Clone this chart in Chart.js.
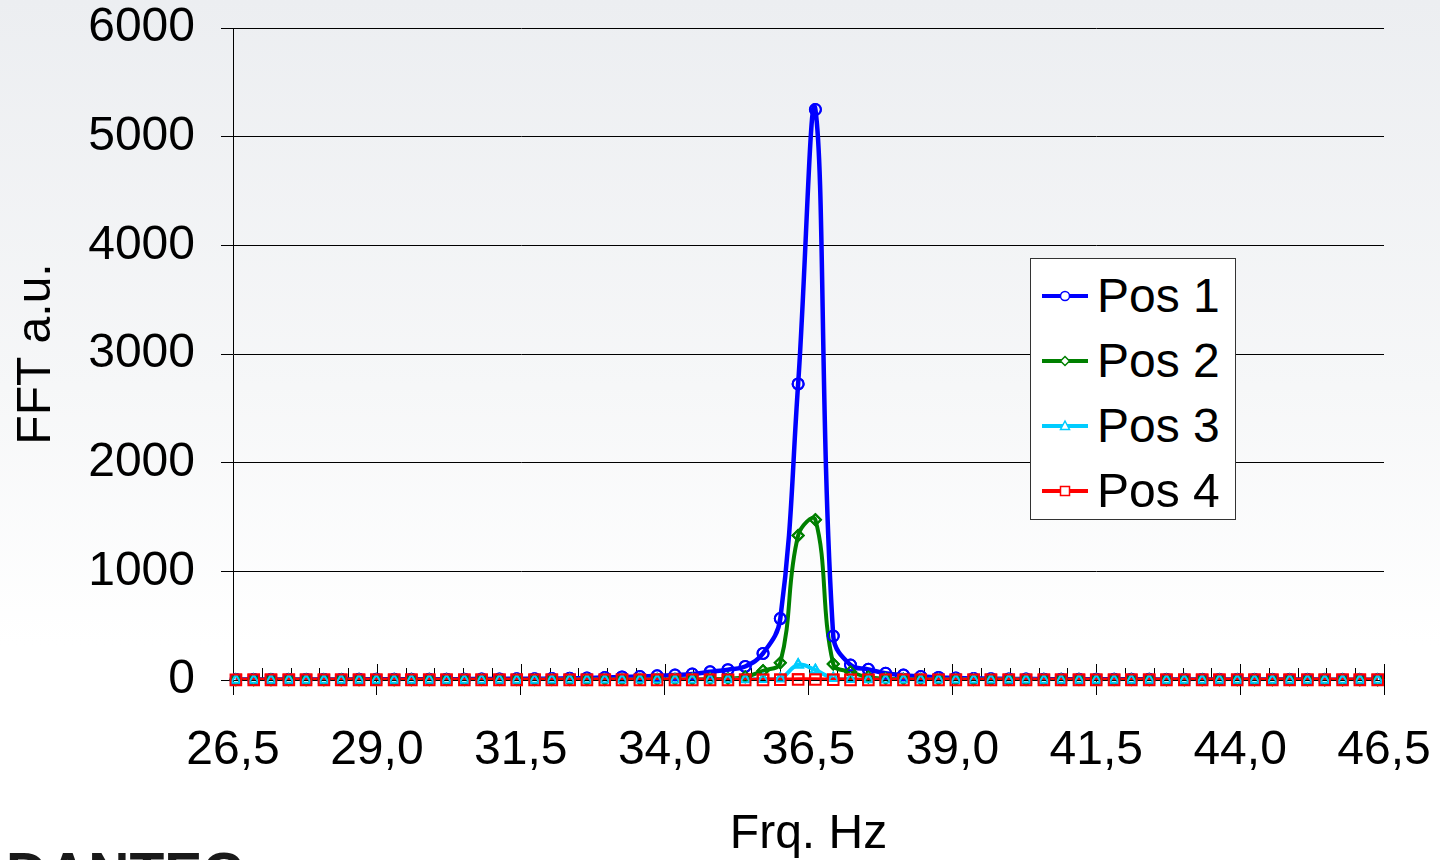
<!DOCTYPE html>
<html lang="en">
<head>
  <meta charset="UTF-8" />
  <title>FFT Pos 1-4</title>
  <script src="https://cdn.jsdelivr.net/npm/chart.js"></script>
  <style>
    html, body {
      margin: 0;
      padding: 0;
    }
    body {
      width: 1440px;
      height: 860px;
      overflow: hidden;
      position: relative;
      font-family: "Liberation Sans", Arial, sans-serif;
      background: linear-gradient(to bottom, #eceef1 0%, #f6f7f8 45%, #ffffff 75%);
    }
    #chartCanvas {
      position: absolute;
      left: 0;
      top: 0;
    }
    #legend {
      position: absolute;
      left: 1030px;
      top: 258px;
      width: 206px;
      height: 262px;
      box-sizing: border-box;
      border: 1px solid #333;
      background: #fff;
      padding: 4px 0 0 11px;
    }
    #legend .row {
      height: 65px;
      line-height: 65px;
      display: flex;
      align-items: center;
      font-size: 48px;
      color: #000;
      white-space: nowrap;
    }
    #legend svg {
      flex: none;
      margin-right: 9px;
    }
    #logo {
      position: absolute;
      left: 6px;
      top: 845px;
      font-family: "Liberation Sans", Arial, sans-serif;
      font-weight: bold;
      font-size: 57px;
      line-height: 57px;
      color: #1a1a1a;
    }
  </style>
</head>
<body>

<canvas id="chartCanvas" width="1440" height="860"></canvas>
<div id="legend"></div>
<div id="logo">DANTEC</div>

<script>
  // frequency bins (Hz)
  const freqs = [
    26.55, 26.86, 27.16, 27.47, 27.77, 28.08, 28.38, 28.69, 28.99, 29.30,
    29.60, 29.91, 30.21, 30.52, 30.82, 31.13, 31.43, 31.74, 32.04, 32.35,
    32.65, 32.96, 33.26, 33.57, 33.87, 34.18, 34.48, 34.79, 35.10, 35.40,
    35.71, 36.01, 36.32, 36.62, 36.93, 37.23, 37.54, 37.84, 38.15, 38.45,
    38.76, 39.06, 39.37, 39.67, 39.98, 40.28, 40.59, 40.89, 41.20, 41.50,
    41.81, 42.11, 42.42, 42.72, 43.03, 43.34, 43.64, 43.95, 44.25, 44.56,
    44.86, 45.17, 45.47, 45.78, 46.08, 46.39
  ];

  const pos1 = [
    4, 4, 4, 5, 5, 5, 5, 6, 6, 6,
    7, 7, 8, 8, 9, 10, 11, 12, 13, 15,
    18, 23, 28, 32, 38, 46, 55, 75, 95, 125,
    245, 565, 2725, 5250, 405, 138, 98, 62, 45, 32,
    24, 18, 14, 12, 10, 9, 8, 8, 7, 7,
    6, 6, 6, 5, 5, 5, 5, 4, 4, 4,
    4, 4, 3, 3, 3, 3
  ];

  const pos2 = [
    2, 2, 2, 2, 2, 2, 2, 2, 2, 2,
    2, 2, 3, 3, 3, 3, 3, 3, 3, 4,
    4, 4, 4, 5, 5, 6, 7, 9, 12, 28,
    85, 158, 1330, 1475, 147, 75, 25, 12, 8, 6,
    5, 5, 4, 4, 4, 3, 3, 3, 3, 3,
    3, 3, 2, 2, 2, 2, 2, 2, 2, 2,
    2, 2, 2, 2, 2, 2
  ];

  const pos3 = [
    1, 1, 1, 1, 1, 1, 1, 1, 1, 1,
    1, 1, 1, 1, 1, 1, 1, 1, 2, 2,
    2, 2, 2, 2, 2, 3, 3, 3, 4, 5,
    8, 12, 140, 90, 15, 6, 4, 3, 3, 3,
    2, 2, 2, 2, 2, 2, 1, 1, 1, 1,
    1, 1, 1, 1, 1, 1, 1, 1, 1, 1,
    1, 1, 1, 1, 1, 1
  ];

  const pos4 = [
    1, 1, 1, 1, 1, 1, 1, 1, 1, 1,
    1, 1, 1, 1, 1, 1, 1, 1, 1, 1,
    1, 1, 1, 1, 1, 1, 1, 1, 1, 1,
    1, 2, 4, 4, 2, 1, 1, 1, 1, 1,
    1, 1, 1, 1, 1, 1, 1, 1, 1, 1,
    1, 1, 1, 1, 1, 1, 1, 1, 1, 1,
    1, 1, 1, 1, 1, 1
  ];

  const seriesNames = ['Pos 1', 'Pos 2', 'Pos 3', 'Pos 4'];
  const xTicks = [26.5, 29.0, 31.5, 34.0, 36.5, 39.0, 41.5, 44.0, 46.5];
  const yTicks = [0, 1000, 2000, 3000, 4000, 5000, 6000];
  const minorStep = 0.5;

  const FONT = "'Liberation Sans', Arial, sans-serif";
  Chart.defaults.font.family = FONT;
  Chart.defaults.color = '#000';

  const toPoints = arr => arr.map((v, i) => ({ x: freqs[i], y: v }));

  // ticks inside the plot on the x axis (major + minor)
  const insideTicks = {
    id: 'insideTicks',
    beforeDatasetsDraw(chart) {
      const { ctx, scales: { x } } = chart;
      const y0 = x.top;
      ctx.save();
      ctx.strokeStyle = '#000';
      ctx.lineWidth = 1;
      ctx.beginPath();
      const first = xTicks[0], last = xTicks[xTicks.length - 1];
      for (let v = first; v <= last + 1e-9; v += minorStep) {
        const px = Math.round(x.getPixelForValue(v)) + 0.5;
        const major = xTicks.some(t => Math.abs(t - v) < 1e-6);
        ctx.moveTo(px, y0);
        ctx.lineTo(px, y0 - (major ? 16 : 12));
      }
      ctx.stroke();
      ctx.restore();
    }
  };

  // Excel draws all lines first, then markers
  const markersOnTop = {
    id: 'markersOnTop',
    afterDatasetsDraw(chart) {
      const metas = chart.getSortedVisibleDatasetMetas().slice().reverse();
      metas.forEach(meta => meta.data.forEach(p => p.draw(chart.ctx, chart.chartArea)));
    }
  };

  const ctx = document.getElementById('chartCanvas').getContext('2d');

  const chart = new Chart(ctx, {
    type: 'line',
    data: {
      datasets: [
        {
          label: seriesNames[0], data: toPoints(pos1), order: 4,
          borderColor: '#0000ff', borderWidth: 4.5,
          pointStyle: 'circle', pointRadius: 5.5, pointBorderWidth: 2,
          pointBorderColor: '#0000ff', pointBackgroundColor: 'rgba(0,0,0,0)'
        },
        {
          label: seriesNames[1], data: toPoints(pos2), order: 3,
          borderColor: '#008000', borderWidth: 4,
          pointStyle: 'rectRot', pointRadius: 5.5, pointBorderWidth: 2,
          pointBorderColor: '#008000', pointBackgroundColor: 'rgba(0,0,0,0)'
        },
        {
          label: seriesNames[2], data: toPoints(pos3), order: 2,
          borderColor: '#00ccff', borderWidth: 4,
          pointStyle: 'triangle', pointRadius: 5.5, pointBorderWidth: 2,
          pointBorderColor: '#00ccff', pointBackgroundColor: 'rgba(0,0,0,0)'
        },
        {
          label: seriesNames[3], data: toPoints(pos4), order: 1,
          borderColor: '#ff0000', borderWidth: 4.5,
          pointStyle: 'rect', pointRadius: 7.5, pointBorderWidth: 2,
          pointBorderColor: '#ff0000', pointBackgroundColor: 'rgba(0,0,0,0)'
        }
      ]
    },
    options: {
      responsive: false,
      animation: false,
      devicePixelRatio: 1,
      layout: { padding: { top: 28, right: 56, left: 0, bottom: 0 } },
      elements: { line: { tension: 0.4 } },
      plugins: {
        legend: { display: false },
        tooltip: { enabled: false }
      },
      scales: {
        x: {
          type: 'linear',
          min: xTicks[0],
          max: xTicks[xTicks.length - 1],
          afterBuildTicks: scale => { scale.ticks = xTicks.map(v => ({ value: v })); },
          afterFit: scale => {
            scale.height = 180;
            scale.paddingLeft = 0;
            scale.paddingRight = 0;
          },
          grid: { drawOnChartArea: false, tickLength: 15, color: '#000', lineWidth: 1 },
          border: { display: true, color: '#000', width: 1 },
          ticks: {
            font: { size: 48 },
            padding: 27,
            maxRotation: 0,
            autoSkip: false,
            callback: v => v.toFixed(1).replace('.', ',')
          },
          title: {
            display: true,
            text: 'Frq. Hz',
            font: { size: 48, lineHeight: 1 },
            padding: { top: 0, bottom: 1 }
          }
        },
        y: {
          min: 0,
          max: 6000,
          afterBuildTicks: scale => { scale.ticks = yTicks.map(v => ({ value: v })); },
          afterFit: scale => {
            scale.width = 233;
            scale.paddingTop = 0;
            scale.paddingBottom = 0;
          },
          grid: { color: '#000', lineWidth: 1, tickLength: 12 },
          border: { display: true, color: '#000', width: 1 },
          ticks: {
            font: { size: 48 },
            padding: 26,
            callback: v => String(v)
          },
          title: {
            display: true,
            text: 'FFT a.u.',
            font: { size: 48, lineHeight: 1 },
            padding: { top: 13, bottom: 0 }
          }
        }
      }
    },
    plugins: [insideTicks, markersOnTop]
  });

  // html legend built from the datasets
  const markerSvg = {
    circle: c => `<circle cx="23" cy="8" r="4.5" fill="#fff" stroke="${c}" stroke-width="1.5"/>`,
    rectRot: c => `<polygon points="23,3.5 27.5,8 23,12.5 18.5,8" fill="#fff" stroke="${c}" stroke-width="1.5"/>`,
    triangle: c => `<polygon points="23,3 27.5,11.5 18.5,11.5" fill="#fff" stroke="${c}" stroke-width="1.5"/>`,
    rect: c => `<rect x="18.5" y="3.5" width="9" height="9" fill="#fff" stroke="${c}" stroke-width="1.5"/>`
  };

  const legendEl = document.getElementById('legend');
  chart.data.datasets.forEach(ds => {
    const row = document.createElement('div');
    row.className = 'row';
    row.innerHTML =
      `<svg width="46" height="16" viewBox="0 0 46 16">` +
      `<line x1="0" y1="8" x2="46" y2="8" stroke="${ds.borderColor}" stroke-width="4"/>` +
      markerSvg[ds.pointStyle](ds.borderColor) +
      `</svg><span>${ds.label}</span>`;
    legendEl.appendChild(row);
  });
</script>

</body>
</html>
